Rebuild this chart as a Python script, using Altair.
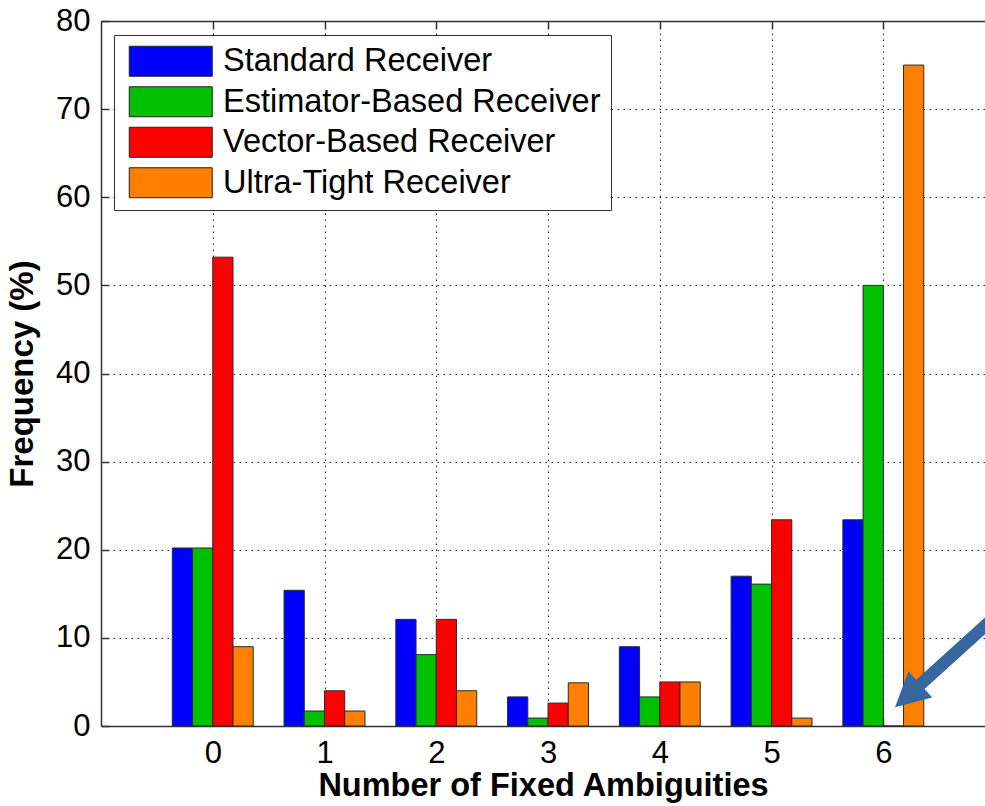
import altair as alt
import pandas as pd

# ---------------- data ----------------
categories = [0, 1, 2, 3, 4, 5, 6]
series_names = [
    "Standard Receiver",
    "Estimator-Based Receiver",
    "Vector-Based Receiver",
    "Ultra-Tight Receiver",
]
standard = [20.2, 15.4, 12.1, 3.3, 9.0, 17.0, 23.4]
estimator = [20.2, 1.7, 8.1, 0.9, 3.3, 16.1, 50.0]
vector = [53.2, 4.0, 12.1, 2.6, 5.0, 23.4, 0.0]
ultra = [9.0, 1.7, 4.0, 4.9, 5.0, 0.9, 75.0]
y_ticks = [0, 10, 20, 30, 40, 50, 60, 70, 80]
colors = ["#0000FF", "#00C000", "#FF0000", "#FF8000"]

# annotation arrow (data units)
arrow_tail = [7.044, 12.89]
arrow_head = [6.218, 3.43]

rows = []
for si, (name, vals) in enumerate(zip(series_names, [standard, estimator, vector, ultra])):
    for c, v in zip(categories, vals):
        rows.append({"cat": c, "series": name, "idx": si, "value": v})
df = pd.DataFrame(rows)
arrow_df = pd.DataFrame([{"x": arrow_tail[0], "y": arrow_tail[1],
                          "x2": arrow_head[0], "y2": arrow_head[1]}])

# ---------------- style ----------------
BW = 0.181
FONT = "Liberation Sans"
AX = "#333333"
xs = alt.Scale(domain=[-1, 6.91], nice=False, zero=False)
ys = alt.Scale(domain=[0, 80], nice=False, zero=True)

bars = alt.Chart(df).transform_calculate(
    x0=f"datum.cat + (datum.idx - 2) * {BW}",
    x1=f"datum.cat + (datum.idx - 1) * {BW}",
).mark_bar(stroke="#2a2a2a", strokeWidth=1).encode(
    x=alt.X("x0:Q", scale=xs, axis=alt.Axis(
        values=categories, format="d", title="Number of Fixed Ambiguities",
        tickSize=0, labelPadding=12, labelFont=FONT, labelFontSize=31, labelColor="black",
        titleFont=FONT, titleFontSize=32.5, titleFontWeight="bold", titleColor="black",
        titleBaseline="alphabetic", titleY=69,
        domainColor=AX, domainWidth=1.5,
        grid=True, gridColor="#222222", gridDash=[1.5, 4.5], gridWidth=1)),
    x2="x1:Q",
    y=alt.Y("value:Q", scale=ys, axis=alt.Axis(
        values=y_ticks, title="Frequency (%)",
        tickSize=0, labelPadding=11, labelFont=FONT, labelFontSize=31, labelColor="black",
        titleFont=FONT, titleFontSize=33, titleFontWeight="bold", titleColor="black",
        titlePadding=16,
        domainColor=AX, domainWidth=1.5,
        grid=True, gridColor="#222222", gridDash=[1.5, 4.5], gridWidth=1)),
    y2=alt.datum(0),
    color=alt.Color("series:N", scale=alt.Scale(domain=series_names, range=colors),
                    legend=alt.Legend(
                        title=None, orient="none", legendX=13, legendY=14,
                        symbolType="M-0.733,-1L4.8,-1L4.8,1L-0.733,1Z",
                        symbolSize=900, symbolStrokeColor="#222222", symbolStrokeWidth=1,
                        symbolOpacity=1,
                        labelFont=FONT, labelFontSize=32.5, labelColor="black",
                        labelOffset=66.5, labelLimit=700, rowPadding=5.5,
                        padding=10, strokeColor=AX, fillColor="white")),
)

tick_ax = dict(labels=False, domain=False, grid=False, ticks=True, tickSize=8,
               tickColor=AX, tickWidth=1.5, title=None)
ghost = alt.Chart(df).mark_point(opacity=0)
t1 = ghost.encode(
    x=alt.X("cat:Q", scale=xs, axis=alt.Axis(orient="top", labels=False, ticks=False, grid=False,
                                             domain=True, domainColor=AX, domainWidth=1.5,
                                             title=None, values=categories)),
    y=alt.Y("value:Q", scale=ys, axis=alt.Axis(orient="left", offset=-8, values=y_ticks, **tick_ax)),
)
t2 = ghost.encode(
    x=alt.X("cat:Q", scale=xs, axis=alt.Axis(orient="top", offset=-8, values=categories, **tick_ax)),
    y=alt.Y("value:Q", scale=ys, axis=None),
)
t3 = ghost.encode(
    x=alt.X("cat:Q", scale=xs, axis=alt.Axis(orient="bottom", offset=-8, values=categories, **tick_ax)),
    y=alt.Y("value:Q", scale=ys, axis=None),
)

ARROW_C = "#3767A0"
shaft = alt.Chart(arrow_df).mark_rule(color=ARROW_C, strokeWidth=12.5).encode(
    x=alt.X("x:Q", scale=xs, axis=None), y=alt.Y("y:Q", scale=ys, axis=None),
    x2="x2:Q", y2="y2:Q",
)
head = alt.Chart(arrow_df).mark_point(
    shape="M0,-1L1.035,1L-1.035,1Z", size=1170, angle=227.8, filled=True,
    color=ARROW_C, opacity=1, strokeWidth=0,
).encode(
    x=alt.X("x2:Q", scale=xs, axis=None), y=alt.Y("y2:Q", scale=ys, axis=None),
)

chart = alt.layer(bars, t1, t2, t3, shaft, head).resolve_axis(
    x="independent", y="independent"
).properties(
    width=884, height=705,
    padding={"left": 101, "top": 21, "right": 0, "bottom": 80},
    autosize=alt.AutoSizeParams(type="none"),
    background="white",
).configure_view(stroke=None)

chart.save("out.html", embed_options={"renderer": "svg", "actions": False})
